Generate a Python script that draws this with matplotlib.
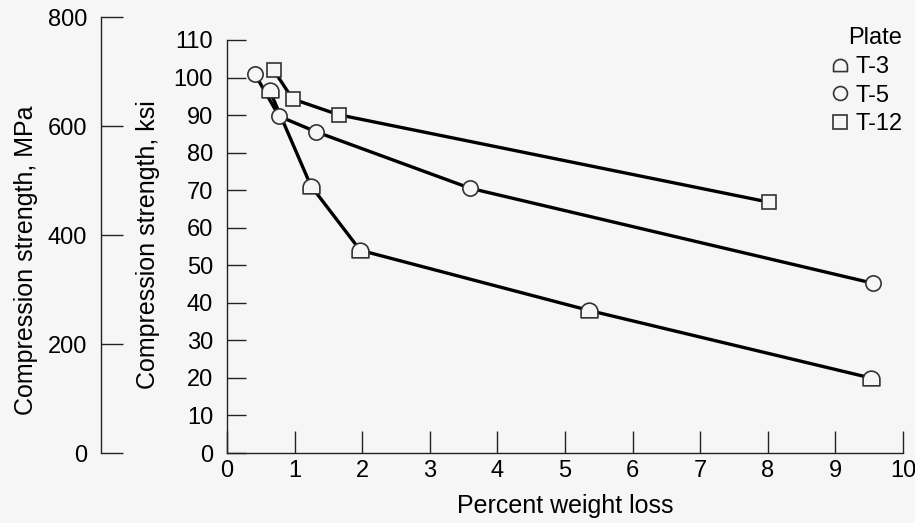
import numpy as np
import matplotlib
matplotlib.use("Agg")
import matplotlib.pyplot as plt
from matplotlib.path import Path

plt.rcParams['font.family'] = ['Liberation Sans', 'DejaVu Sans']

# data (percent weight loss, ksi)
t3_x = [0.63, 1.24, 1.97, 5.35, 9.52]
t3_y = [96.6, 71.2, 54.0, 38.0, 20.0]
t5_x = [0.41, 0.77, 1.31, 3.6, 9.56]
t5_y = [101.0, 89.7, 85.6, 70.5, 45.2]
t12_x = [0.69, 0.97, 1.65, 8.02]
t12_y = [102.0, 94.3, 90.1, 66.8]

x_ticks = list(range(0, 11))
ksi_ticks = list(range(0, 111, 10))
mpa_ticks = [0, 200, 400, 600, 800]

KSI_TO_MPA = 6.894757
bg = "#f6f6f6"
FS = 17
LFS = 18


def dome_marker():
    # arch: half circle on top of a short straight base
    arc = Path.arc(0, 180)
    base = -0.75
    verts = [(1, base), (1, 0)] + list(arc.vertices[1:]) + [(-1, base), (1, base)]
    codes = [Path.MOVETO, Path.LINETO] + list(arc.codes[1:]) + [Path.LINETO, Path.CLOSEPOLY]
    verts = np.array(verts, dtype=float)
    verts[:, 1] -= (1 + base) / 2
    return Path(verts, codes)


fig = plt.figure(figsize=(9.15, 5.23), dpi=100, facecolor=bg)

W, H = 915, 523
x0, x1 = 227, 903
y0, y110 = 453, 40
ax = fig.add_axes([x0 / W, 1 - y0 / H, (x1 - x0) / W, (y0 - y110) / H])
ax.set_facecolor(bg)

px_per_ksi = (y0 - y110) / 110.0
y800 = y0 - 800 / KSI_TO_MPA * px_per_ksi
x_mpa = 101
ax2 = fig.add_axes([x_mpa / W, 1 - y0 / H, 0.001, (y0 - y800) / H])
ax2.patch.set_alpha(0)

lw = 2.4
ms = 11
mk = dict(markerfacecolor=bg, markeredgecolor="#333333", markeredgewidth=1.2)

ax.plot(t3_x, t3_y, color="black", lw=lw, zorder=2)
ax.plot(t5_x, t5_y, color="black", lw=lw, zorder=2)
ax.plot(t12_x, t12_y, color="black", lw=lw, zorder=2)
h3, = ax.plot(t3_x, t3_y, ls="none", marker=dome_marker(), markersize=ms * 1.1, zorder=3, **mk)
h5, = ax.plot(t5_x, t5_y, ls="none", marker="o", markersize=ms, zorder=3, **mk)
h12, = ax.plot(t12_x, t12_y, ls="none", marker="s", markersize=ms * 0.95, zorder=3, **mk)

ax.set_xlim(0, 10)
ax.set_ylim(0, 110)
ax.set_xticks(x_ticks)
ax.set_yticks(ksi_ticks)
for s in ["top", "right"]:
    ax.spines[s].set_visible(False)
for s in ["left", "bottom"]:
    ax.spines[s].set_linewidth(1.0)
    ax.spines[s].set_color("#222222")
ax.tick_params(axis="x", direction="in", length=16, width=1.0, pad=5,
               labelsize=FS, colors="#222222", labelcolor="black")
ax.tick_params(axis="y", direction="in", length=14, width=1.0, pad=10,
               labelsize=FS, colors="#222222", labelcolor="black")
ax.set_xlabel("Percent weight loss", fontsize=LFS, labelpad=9)

ax2.set_ylim(0, 800)
ax2.set_xticks([])
ax2.set_yticks(mpa_ticks)
for s in ["top", "right", "bottom"]:
    ax2.spines[s].set_visible(False)
ax2.spines["left"].set_linewidth(1.0)
ax2.spines["left"].set_color("#222222")
ax2.tick_params(axis="y", direction="in", length=16, width=1.0, pad=10,
                labelsize=FS, colors="#222222", labelcolor="black")

# axis titles for the two y scales
fig.text(148 / W, 1 - 245 / H, "Compression strength, ksi", rotation=90,
         ha="center", va="center", fontsize=LFS)
fig.text(26 / W, 1 - 260 / H, "Compression strength, MPa", rotation=90,
         ha="center", va="center", fontsize=LFS)

leg = ax.legend([h3, h5, h12], ["T-3", "T-5", "T-12"], title="Plate",
                loc="upper right", bbox_to_anchor=(1.02, 1.065), frameon=False,
                fontsize=FS, title_fontsize=FS, handletextpad=0.2,
                handlelength=0.9, labelspacing=0.28, borderpad=0.1)
leg._legend_box.align = "right"
for h in leg.legend_handles:
    h.set_markersize(10)

fig.savefig("out.png", dpi=100, facecolor=bg)
